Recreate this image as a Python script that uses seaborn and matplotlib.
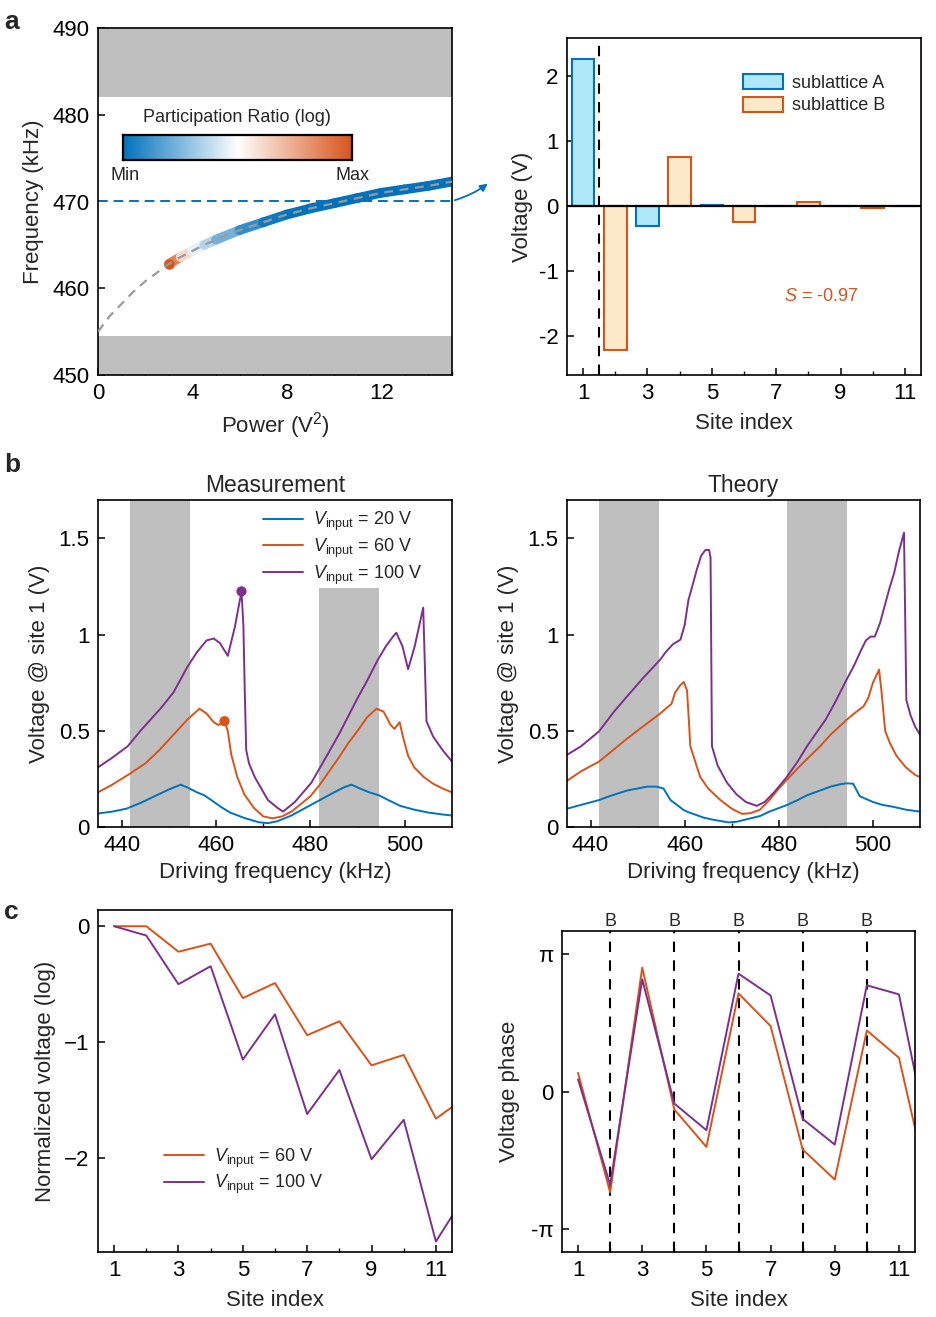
import numpy as np
import matplotlib
matplotlib.use("Agg")
import matplotlib.pyplot as plt
import seaborn as sns
from matplotlib.collections import LineCollection
from matplotlib.colors import LinearSegmentedColormap
from matplotlib.patches import FancyArrowPatch, Patch

# ---------------- data ----------------
# panel a (left): frequency vs power, participation ratio along the branch
power = [0, 0.5, 1, 1.5, 2, 2.5, 3, 3.5, 4, 4.5, 5, 6, 7, 8, 9, 10, 11, 12, 13, 14, 15]
freq_branch = [455.0, 456.8, 458.2, 459.6, 460.8, 461.8, 462.8, 463.6, 464.3, 465.0, 465.6,
               466.7, 467.6, 468.5, 469.2, 469.8, 470.4, 471.0, 471.4, 471.8, 472.3]
pr_power = [3, 3.5, 4, 4.5, 5, 6, 7, 8, 9, 10, 11, 12, 13, 14, 15]
pr_value = [1.0, 0.72, 0.5, 0.4, 0.3, 0.15, 0.05, 0.0, 0.0, 0.0, 0.0, 0.0, 0.0, 0.0, 0.0]

# panel a (right): voltage profile at 470 kHz
sites_a = [1, 3, 5, 7, 9, 11]
volt_a = [2.25, -0.31, 0.01, 0.0, 0.0, 0.0]
sites_b = [2, 4, 6, 8, 10]
volt_b = [-2.21, 0.75, -0.25, 0.06, -0.03]

# panel b (left): measurement
m20_f = [435, 438, 441, 444, 447, 450, 452.5, 454, 456, 457.5, 459, 461, 463, 466, 469, 471, 473,
         476, 479, 482, 485, 487, 488.7, 490.5, 492.5, 494.5, 496.5, 499, 502, 505, 508, 510]
m20_v = [0.07, 0.08, 0.095, 0.125, 0.16, 0.195, 0.22, 0.205, 0.18, 0.165, 0.14, 0.105, 0.075, 0.047,
         0.025, 0.02, 0.03, 0.06, 0.1, 0.14, 0.18, 0.205, 0.22, 0.2, 0.18, 0.165, 0.14, 0.11, 0.09,
         0.075, 0.065, 0.06]
m60_f = [435, 438, 441.3, 445, 448, 451, 454, 456.5, 458, 459.5, 460.5, 461.8, 462.5, 463.2, 464.5,
         466, 468, 470, 472, 474, 476, 478, 480, 482, 484, 486, 488, 490, 492, 494, 495.5, 497,
         497.8, 498.9, 499.6, 500.7, 502, 504, 506, 508, 510]
m60_v = [0.18, 0.22, 0.27, 0.33, 0.40, 0.48, 0.56, 0.615, 0.59, 0.545, 0.53, 0.55, 0.5, 0.38, 0.26,
         0.17, 0.1, 0.055, 0.045, 0.055, 0.08, 0.12, 0.16, 0.22, 0.29, 0.36, 0.435, 0.5, 0.57, 0.615,
         0.6, 0.53, 0.51, 0.545, 0.47, 0.37, 0.31, 0.26, 0.225, 0.2, 0.18]
m100_f = [435, 438, 441.3, 444, 448.4, 451, 454, 456, 458, 459.5, 460.8, 462.5, 464, 465.4, 465.8,
          466.1, 466.4, 467, 468.2, 471, 473, 474.2, 476.7, 480.2, 483.7, 486, 488, 490, 492, 494.3,
          496, 497.5, 498.2, 499.5, 500.7, 502.1, 503.9, 504.3, 504.6, 506, 508, 510]
m100_v = [0.31, 0.36, 0.42, 0.5, 0.62, 0.7, 0.835, 0.91, 0.97, 0.98, 0.957, 0.89, 1.04, 1.225, 1.05,
          0.7, 0.4, 0.33, 0.26, 0.14, 0.1, 0.08, 0.13, 0.23, 0.38, 0.48, 0.575, 0.67, 0.76, 0.87,
          0.94, 0.99, 1.01, 0.94, 0.82, 0.94, 1.14, 0.8, 0.55, 0.47, 0.4, 0.34]
dot_f = [461.8, 465.4]
dot_v = [0.55, 1.225]

# panel b (right): theory
t20_f = [435, 438, 441.8, 444, 447.8, 450, 452, 454, 455.5, 457, 459.8, 461, 464, 466, 469.3, 471,
         474, 476, 478, 481.7, 484, 486, 488.8, 491, 493, 494.4, 495.8, 497.2, 500, 502, 504.3, 507,
         510]
t20_v = [0.095, 0.115, 0.14, 0.16, 0.19, 0.2, 0.21, 0.21, 0.2, 0.14, 0.088, 0.075, 0.049, 0.038,
         0.024, 0.027, 0.045, 0.057, 0.08, 0.114, 0.14, 0.165, 0.19, 0.21, 0.222, 0.227, 0.225, 0.16,
         0.13, 0.115, 0.105, 0.09, 0.08]
t60_f = [435, 438, 441.8, 444.8, 447.8, 451, 454.8, 456.2, 457.2, 458, 459, 459.8, 460.5, 460.9,
         461.2, 463.3, 465, 467.6, 470, 472.2, 474, 476, 478, 480, 481.7, 485, 488.8, 491, 494.4,
         496, 498, 499, 500, 501.3, 501.8, 502.6, 503.6, 505, 507, 509, 510]
t60_v = [0.24, 0.29, 0.34, 0.40, 0.46, 0.52, 0.59, 0.62, 0.64, 0.70, 0.735, 0.754, 0.71, 0.55, 0.42,
         0.26, 0.2, 0.14, 0.095, 0.068, 0.072, 0.09, 0.14, 0.2, 0.245, 0.33, 0.42, 0.48, 0.557,
         0.59, 0.627, 0.67, 0.75, 0.818, 0.71, 0.5, 0.436, 0.37, 0.31, 0.27, 0.26]
t100_f = [435, 438, 441.8, 445, 447.8, 451, 454.8, 456, 457.5, 459.1, 460, 460.8, 461.6, 462.6,
          463.5, 464.4, 465.2, 465.5, 465.8, 467, 469, 471, 473, 475.3, 477, 479, 481.7, 484, 486,
          488, 490, 492, 494.4, 496, 497.5, 498.5, 499.5, 500.4, 501.5, 502.5, 503.5, 504.5, 505.5,
          506.6, 507.1, 508, 509, 510]
t100_v = [0.375, 0.42, 0.497, 0.6, 0.68, 0.77, 0.87, 0.91, 0.95, 0.974, 1.05, 1.18, 1.25, 1.34,
          1.41, 1.44, 1.44, 1.4, 0.42, 0.32, 0.23, 0.17, 0.13, 0.11, 0.13, 0.18, 0.26, 0.34, 0.42,
          0.49, 0.56, 0.65, 0.766, 0.84, 0.92, 0.97, 0.99, 0.99, 1.06, 1.15, 1.24, 1.32, 1.43, 1.53,
          0.66, 0.58, 0.52, 0.48]

# panel c
sites = [1, 2, 3, 4, 5, 6, 7, 8, 9, 10, 11, 12]
norm60 = [0.0, 0.0, -0.22, -0.15, -0.62, -0.49, -0.94, -0.82, -1.20, -1.11, -1.66, -1.46]
norm100 = [0.0, -0.08, -0.50, -0.345, -1.15, -0.76, -1.62, -1.24, -2.01, -1.67, -2.72, -2.28]
phase60 = [0.136, -0.735, 0.903, -0.131, -0.404, 0.715, 0.477, -0.423, -0.642, 0.445, 0.246, -0.776]
phase100 = [0.088, -0.679, 0.818, -0.088, -0.282, 0.859, 0.70, -0.20, -0.387, 0.774, 0.708, -0.436]
b_sites = [2, 4, 6, 8, 10]

# ---------------- style ----------------
BLUE, ORANGE, PURPLE, GRAY = "#0072BD", "#D95319", "#7E2F8E", "#bfbfbf"
sns.set_theme(style="ticks")
plt.rcParams["font.family"] = ["Liberation Sans", "DejaVu Sans"]
plt.rcParams.update({
    "mathtext.fontset": "custom", "mathtext.rm": "Liberation Sans",
    "mathtext.it": "Liberation Sans:italic", "mathtext.bf": "Liberation Sans:bold",
    "xtick.direction": "in", "ytick.direction": "in",
    "xtick.major.size": 5, "ytick.major.size": 5, "xtick.minor.size": 3, "ytick.minor.size": 3,
    "xtick.major.width": 1.1, "ytick.major.width": 1.1, "xtick.minor.width": 1.0,
    "axes.linewidth": 1.2, "axes.edgecolor": "black",
    "font.size": 16, "axes.labelsize": 16, "xtick.labelsize": 16, "ytick.labelsize": 16,
    "axes.unicode_minus": False,
})

W, H = 937, 1317
fig = plt.figure(figsize=(W / 100, H / 100), dpi=100)


def box(x0, y0, x1, y1):
    return fig.add_axes([x0 / W, 1 - y1 / H, (x1 - x0) / W, (y1 - y0) / H])


def frame(ax):
    for s in ax.spines.values():
        s.set_visible(True)
        s.set_color("black")
    ax.tick_params(which="both", top=False, right=False, colors="black", labelcolor="black", pad=6)


ax1 = box(98, 28, 452, 375)
ax2 = box(567, 38, 921, 375)
ax3 = box(98, 500, 452, 827)
ax4 = box(567, 500, 920, 827)
ax5 = box(98, 910, 452, 1252)
ax6 = box(562, 931, 915, 1252)
for a in (ax1, ax2, ax3, ax4, ax5, ax6):
    frame(a)

# ---------- panel a left ----------
cmap = LinearSegmentedColormap.from_list("pr", [BLUE, "white", ORANGE])
ax1.axhspan(482, 490, color=GRAY, lw=0)
ax1.axhspan(450, 454.5, color=GRAY, lw=0)
pr_freq = np.interp(pr_power, power, freq_branch)
pts = np.column_stack([pr_power, pr_freq]).reshape(-1, 1, 2)
segs = np.concatenate([pts[:-1], pts[1:]], axis=1)
seg_c = [(pr_value[i] + pr_value[i + 1]) / 2 for i in range(len(pr_value) - 1)]
lc = LineCollection(segs, cmap=cmap, norm=plt.Normalize(0, 1), linewidths=7, capstyle="round")
lc.set_array(np.array(seg_c))
ax1.add_collection(lc)
ax1.plot([pr_power[0]], [pr_freq[0]], "o", color=ORANGE, ms=6.5, zorder=3)
sns.lineplot(x=power, y=freq_branch, ax=ax1, color="#9a9a9a", lw=1.6, sort=False, estimator=None,
             dashes=False, zorder=4).lines[-1].set_dashes((4, 3))
ax1.axhline(470, color=BLUE, lw=1.4, dashes=(5, 3), zorder=2)
ax1.set_xlim(0, 15)
ax1.set_ylim(450, 490)
ax1.set_xticks([0, 4, 8, 12])
ax1.set_xticks(range(0, 16), minor=True)
ax1.set_yticks([450, 460, 470, 480, 490])
ax1.set_xlabel("Power (V$^2$)", labelpad=4)
ax1.set_ylabel("Frequency (kHz)", labelpad=6)
cax = ax1.inset_axes([0.0706, 0.6196, 0.647, 0.072])
cax.imshow(np.linspace(0, 1, 256)[None, :], aspect="auto", cmap=cmap, extent=(0, 1, 0, 1))
cax.set_xticks([])
cax.set_yticks([])
for s in cax.spines.values():
    s.set_linewidth(1.6)
ax1.text(0.393, 0.7435, "Participation Ratio (log)", transform=ax1.transAxes, ha="center",
         va="center", fontsize=13)
ax1.text(0.076, 0.576, "Min", transform=ax1.transAxes, ha="center", va="center", fontsize=13)
ax1.text(0.718, 0.576, "Max", transform=ax1.transAxes, ha="center", va="center", fontsize=13)

fig.add_artist(FancyArrowPatch((452 / W, 1 - 201 / H), (490 / W, 1 - 182 / H),
                               transform=fig.transFigure, arrowstyle="-|>", mutation_scale=11,
                               color=BLUE, lw=1.3, connectionstyle="arc3,rad=0.1"))

# ---------- panel a right ----------
ax2.bar(sites_a, volt_a, width=0.7, color="#aee7f8", edgecolor=BLUE, lw=1.5, zorder=2)
ax2.bar(sites_b, volt_b, width=0.7, color="#fbe9c9", edgecolor=ORANGE, lw=1.5, zorder=2)
ax2.axhline(0, color="black", lw=1.6, zorder=3)
ax2.axvline(1.5, color="black", lw=1.5, dashes=(5, 4), zorder=3)
ax2.set_xlim(0.5, 11.5)
ax2.set_ylim(-2.6, 2.58)
ax2.set_xticks([1, 3, 5, 7, 9, 11])
ax2.set_xticks(range(1, 12), minor=True)
ax2.set_yticks([-2, -1, 0, 1, 2])
ax2.set_xlabel("Site index", labelpad=6)
ax2.set_ylabel("Voltage (V)", labelpad=4)
ax2.text(8.4, -1.4, "$S$ = -0.97", color=ORANGE, fontsize=13, ha="center", va="center")
handles = [Patch(facecolor="#aee7f8", edgecolor=BLUE, lw=1.5, label="sublattice A"),
           Patch(facecolor="#fbe9c9", edgecolor=ORANGE, lw=1.5, label="sublattice B")]
ax2.legend(handles=handles, loc="upper right", bbox_to_anchor=(0.945, 0.94), frameon=False,
           fontsize=13, handlelength=2.2, handleheight=0.9, handletextpad=0.5, labelspacing=0.25)

# ---------- panel b ----------
lbl = [r"$V_{\mathrm{input}}$ = 20 V", r"$V_{\mathrm{input}}$ = 60 V", r"$V_{\mathrm{input}}$ = 100 V"]
ax3.axvspan(441.7, 454.5, color=GRAY, lw=0)
ax3.axvspan(481.8, 494.5, ymax=1.245 / 1.7, color=GRAY, lw=0)
for fx, vy, c, l in [(m20_f, m20_v, BLUE, lbl[0]), (m60_f, m60_v, ORANGE, lbl[1]),
                     (m100_f, m100_v, PURPLE, lbl[2])]:
    sns.lineplot(x=fx, y=vy, ax=ax3, color=c, lw=1.4, sort=False, estimator=None, label=l)
ax3.scatter(dot_f, dot_v, color=[ORANGE, PURPLE], s=40, zorder=5)
ax3.legend(loc="upper right", bbox_to_anchor=(0.963, 1.02), frameon=False, fontsize=13,
           handlelength=2.2, handletextpad=0.6, labelspacing=0.2)
ax3.set_title("Measurement", fontsize=16.5, pad=6)

ax4.axvspan(441.7, 454.5, color=GRAY, lw=0)
ax4.axvspan(481.8, 494.5, color=GRAY, lw=0)
for fx, vy, c in [(t20_f, t20_v, BLUE), (t60_f, t60_v, ORANGE), (t100_f, t100_v, PURPLE)]:
    sns.lineplot(x=fx, y=vy, ax=ax4, color=c, lw=1.4, sort=False, estimator=None)
ax4.set_title("Theory", fontsize=16.5, pad=6)

for a in (ax3, ax4):
    a.set_xlim(435, 510)
    a.set_ylim(0, 1.7)
    a.set_xticks([440, 460, 480, 500])
    a.set_xticks(range(440, 510, 10), minor=True)
    a.set_yticks([0, 0.5, 1, 1.5])
    a.set_yticklabels(["0", "0.5", "1", "1.5"])
    a.set_xlabel("Driving frequency (kHz)", labelpad=4)
    a.set_ylabel("Voltage @ site 1 (V)", labelpad=6)

# ---------- panel c left ----------
sns.lineplot(x=sites, y=norm60, ax=ax5, color=ORANGE, lw=1.4, sort=False, estimator=None, label=lbl[1])
sns.lineplot(x=sites, y=norm100, ax=ax5, color=PURPLE, lw=1.4, sort=False, estimator=None, label=lbl[2])
ax5.legend(loc="lower left", bbox_to_anchor=(0.14, 0.115), frameon=False, fontsize=13,
           handlelength=2.2, handletextpad=0.6, labelspacing=0.2)
ax5.set_xlim(0.5, 11.5)
ax5.set_ylim(-2.81, 0.14)
ax5.set_xticks([1, 3, 5, 7, 9, 11])
ax5.set_xticks(range(1, 12), minor=True)
ax5.set_yticks([-2, -1, 0])
ax5.set_yticklabels(["\u22122", "\u22121", "0"])
ax5.set_xlabel("Site index", labelpad=6)
ax5.set_ylabel("Normalized voltage (log)", labelpad=6)

# ---------- panel c right ----------
sns.lineplot(x=sites, y=phase60, ax=ax6, color=ORANGE, lw=1.4, sort=False, estimator=None)
sns.lineplot(x=sites, y=phase100, ax=ax6, color=PURPLE, lw=1.4, sort=False, estimator=None)
for s in b_sites:
    ax6.axvline(s, color="black", lw=1.5, dashes=(5, 4), zorder=1)
    ax6.text(s, 1.175, "B", ha="center", va="bottom", fontsize=13, transform=ax6.transData)
ax6.set_xlim(0.5, 11.5)
ax6.set_ylim(-1.17, 1.17)
ax6.set_xticks([1, 3, 5, 7, 9, 11])
ax6.set_xticks(range(1, 12), minor=True)
ax6.set_yticks([-1, 0, 1])
ax6.set_yticklabels(["-\u03c0", "0", "\u03c0"])
ax6.set_xlabel("Site index", labelpad=6)
ax6.set_ylabel("Voltage phase", labelpad=8)

for t, y in [("a", 22), ("b", 465), ("c", 912)]:
    fig.text(4 / W, 1 - y / H, t, fontsize=19, fontweight="bold", va="center", ha="left")

fig.savefig("out.png", dpi=100)
